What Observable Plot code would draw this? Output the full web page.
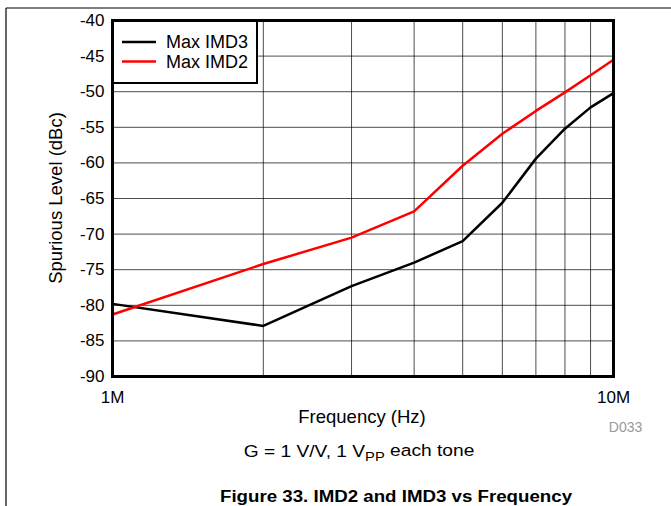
<!DOCTYPE html>
<html>
<head>
<meta charset="utf-8">
<script src="https://cdn.jsdelivr.net/npm/d3@7"></script>
<script src="https://cdn.jsdelivr.net/npm/@observablehq/plot@0.6"></script>
<style>
  body { margin: 0; background: #fff; }
  svg { font-family: Arial, "Liberation Sans", sans-serif; }
</style>
</head>
<body>
<div id="chart"></div>
<script>
const freqs = [1e6, 2e6, 3e6, 4e6, 5e6, 6e6, 7e6, 8e6, 9e6, 1e7];
const imd3 = [-79.8, -82.9, -77.3, -74.0, -71.0, -65.6, -59.4, -55.2, -52.2, -50.2];
const imd2 = [-81.3, -74.2, -70.5, -66.8, -60.4, -55.9, -52.7, -50.1, -47.7, -45.5];
const seriesNames = ["Max IMD3", "Max IMD2"];
const seriesColors = ["#000000", "#ff0000"];
const xTicks = [1e6, 1e7];
const xTickLabels = ["1M", "10M"];
const yTicks = [-90, -85, -80, -75, -70, -65, -60, -55, -50, -45, -40];
const xGrid = [2e6, 3e6, 4e6, 5e6, 6e6, 7e6, 8e6, 9e6];

const rows = [];
freqs.forEach((f, i) => {
  rows.push({f, v: imd3[i], s: seriesNames[0]});
  rows.push({f, v: imd2[i], s: seriesNames[1]});
});

const W = 671, H = 506;
const mL = 112, mR = 58, mT = 20, mB = 130;

const plot = Plot.plot({
  width: W, height: H,
  marginLeft: mL, marginRight: mR, marginTop: mT, marginBottom: mB,
  style: {fontFamily: "Arial, 'Liberation Sans', sans-serif", fontSize: "17px", color: "#000", background: "#fff"},
  x: {type: "log", domain: [1e6, 1e7], ticks: xTicks, tickFormat: d => xTickLabels[xTicks.indexOf(d)], tickSize: 0, tickPadding: 14, label: null},
  y: {domain: [-90, -40], ticks: yTicks, tickFormat: d => String(d), tickSize: 0, tickPadding: 8, label: null},
  color: {domain: seriesNames, range: seriesColors},
  marks: [
    Plot.ruleX(xGrid, {stroke: "#000", strokeOpacity: 0.7, strokeWidth: 1}),
    Plot.ruleY(yTicks, {stroke: "#000", strokeOpacity: 0.7, strokeWidth: 1}),
    Plot.line(rows, {x: "f", y: "v", z: "s", stroke: "s", strokeWidth: 2.5, strokeLinejoin: "miter"}),
    Plot.frame({stroke: "#000", strokeWidth: 3})
  ]
});

document.getElementById("chart").appendChild(plot);
const svg = d3.select(plot);

// outer page frame lines
svg.append("line").attr("x1", 6).attr("x2", W).attr("y1", 8).attr("y2", 8).attr("stroke", "#000").attr("stroke-width", 1.2);
svg.append("line").attr("x1", 6).attr("x2", 6).attr("y1", 8).attr("y2", H).attr("stroke", "#000").attr("stroke-width", 1.2);

function addText(x, y, str, fs, opts = {}) {
  const sx = opts.sx || 1;
  const t = svg.append("text")
    .attr("transform", `translate(${x},${y})` + (opts.rotate ? ` rotate(${opts.rotate})` : "") + (sx !== 1 ? ` scale(${sx},1)` : ""))
    .attr("dy", "0.36em")
    .attr("text-anchor", opts.anchor || "middle")
    .attr("font-size", fs)
    .attr("fill", opts.fill || "#000");
  if (opts.bold) t.attr("font-weight", "bold");
  if (str !== null) t.text(str);
  return t;
}

// legend box
const lg = svg.append("g");
lg.append("rect").attr("x", 113).attr("y", 21).attr("width", 144).attr("height", 62)
  .attr("fill", "#fff").attr("stroke", "#000").attr("stroke-width", 2);
seriesNames.forEach((n, i) => {
  const y = 42 + i * 19.5;
  lg.append("line").attr("x1", 122).attr("x2", 156).attr("y1", y).attr("y2", y)
    .attr("stroke", seriesColors[i]).attr("stroke-width", 2.5);
  addText(166, y, n, 18, {anchor: "start"});
});

// axis labels
addText(362, 416, "Frequency (Hz)", 18.5);
addText(55, 198, "Spurious Level (dBc)", 18.5, {rotate: -90});
addText(625.5, 427, "D033", 14, {fill: "#999"});

// subtitle with subscript
const sub = addText(359, 451, null, 17, {sx: 1.13});
sub.append("tspan").text("G = 1 V/V, 1 V");
sub.append("tspan").attr("font-size", 13).attr("dy", "0.3em").text("PP");
sub.append("tspan").attr("dy", "-0.3em").text(" each tone");

// figure caption
addText(396, 496, "Figure 33. IMD2 and IMD3 vs Frequency", 17, {bold: true, sx: 1.1});
</script>
</body>
</html>
